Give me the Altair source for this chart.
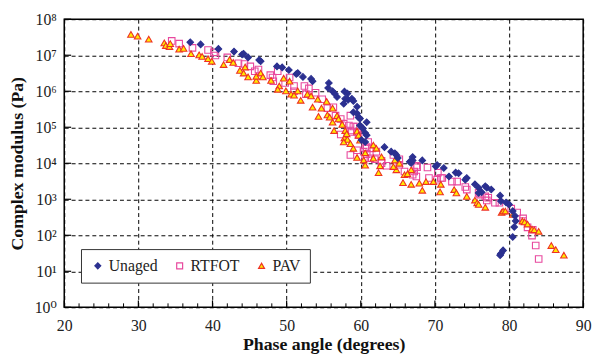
import altair as alt
import pandas as pd

# ---- data ----
unaged_phase = [37.0, 38.4, 40.8, 42.9, 44.0, 44.2, 44.8, 46.3, 46.5, 48.7, 49.4, 50.3, 51.3, 51.5,
                52.2, 53.3, 53.5, 55.7, 55.6, 56.2, 56.5, 56.8, 57.8, 58.2, 57.9, 58.3, 58.8, 59.0,
                57.7, 59.5, 59.0, 59.5, 59.7, 59.9, 60.8, 59.9, 60.3, 60.6, 60.8, 60.1, 60.6, 63.2,
                64.1, 64.6, 64.8, 65.0, 67.0, 66.6, 66.8, 67.0, 68.3, 70.3, 70.1, 71.2, 71.9, 72.8,
                73.2, 74.1, 74.3, 75.4, 75.9, 75.9, 76.8, 77.0, 77.6, 76.3, 78.8, 78.9, 79.6, 80.0,
                80.5, 80.8, 80.9, 80.7, 80.5, 79.2, 78.9, 78.8]
unaged_modulus = [2.3e7, 2.0e7, 1.5e7, 1.26e7, 1.05e7, 1.1e7, 8.7e6, 7.4e6, 6.8e6, 4.9e6, 4.6e6, 3.9e6,
                  3.0e6, 3.2e6, 2.5e6, 2.2e6, 1.9e6, 1.7e6, 1.23e6, 1.0e6, 8.5e5, 6.9e5, 9.8e5, 8.6e5,
                  6.2e5, 5.8e5, 6.2e5, 5.4e5, 4.5e5, 3.7e5, 2.6e5, 2.4e5, 1.87e5, 1.74e5, 1.38e5, 1.12e5,
                  9.3e4, 6.9e4, 6.0e4, 4.4e4, 3.9e4, 2.8e4, 2.1e4, 1.9e4, 1.7e4, 1.4e4, 1.5e4, 1.1e4,
                  1.02e4, 1.2e4, 1.2e4, 8.9e3, 8.2e3, 7.4e3, 4.3e3, 5.5e3, 5.3e3, 3.5e3, 3.9e3, 2.6e3,
                  2.1e3, 1.5e3, 2.3e3, 2.1e3, 1.86e3, 1.56e3, 1.26e3, 890, 815, 720, 470, 345, 250,
                  170, 90, 38, 31, 28]

rtfot_phase = [34.5, 35.5, 37.3, 39.4, 40.2, 40.4, 42.0, 43.5, 44.3, 45.1, 45.7, 46.2, 47.8, 48.1,
               48.2, 48.8, 50.4, 49.8, 51.0, 51.0, 52.4, 53.0, 53.9, 52.6, 54.8, 55.5, 56.3, 56.6,
               58.6, 57.3, 57.7, 58.4, 59.0, 59.5, 58.6, 58.8, 59.5, 59.7, 61.0, 60.8, 60.6, 59.5,
               58.6, 61.5, 62.1, 60.8, 61.3, 61.9, 64.4, 65.2, 67.5, 69.0, 70.4, 70.8, 69.2, 67.0,
               62.8, 63.5, 65.9, 67.2, 67.5, 70.3, 71.0, 72.3, 73.0, 74.1, 74.3, 75.9, 76.1, 76.8,
               77.2, 77.0, 78.1, 78.7, 80.3, 81.1, 81.9, 81.9, 82.5, 83.2, 83.1, 83.6, 84.0,
               57.3, 60.4, 60.6, 62.8, 65.2, 67.6]
rtfot_modulus = [2.5e7, 2.1e7, 1.6e7, 1.4e7, 1.2e7, 9.8e6, 8.7e6, 6.0e6, 5.7e6, 4.9e6, 3.6e6, 4.0e6,
                 2.8e6, 2.4e6, 1.9e6, 3.6e6, 2.4e6, 1.7e6, 1.4e6, 1.0e6, 1.4e6, 1.2e6, 9.1e5, 8.3e5,
                 6.0e5, 3.4e5, 3.6e5, 2.1e5, 2.1e5, 1.7e5, 1.26e5, 1.12e5, 1.05e5, 1.05e5, 8.1e4,
                 7.4e4, 7.4e4, 6.0e4, 3.9e4, 2.8e4, 2.6e4, 2.3e4, 1.7e4, 2.6e4, 2.1e4, 1.8e4, 1.38e4,
                 1.29e4, 1.7e4, 1.29e4, 8.5e3, 7.6e3, 5.5e3, 3.9e3, 3.9e3, 4.8e3, 1.0e4, 8.5e3, 5.9e3,
                 5.9e3, 4.3e3, 3.5e3, 3.9e3, 3.1e3, 3.1e3, 2.2e3, 1.86e3, 1.5e3, 1.35e3, 1.2e3, 1.1e3,
                 930, 800, 800, 550, 430, 295, 250, 166, 142, 98, 52, 22,
                 6.3e4, 2.1e4, 1.38e4, 1.17e4, 9.1e3, 7.8e3]

pav_phase = [29.0, 29.9, 31.4, 33.5, 33.7, 34.2, 34.3, 35.5, 36.1, 37.1, 38.2, 38.6, 39.4, 39.9,
             41.5, 42.3, 42.8, 43.7, 44.2, 44.4, 44.8, 45.9, 45.9, 46.5, 46.8, 47.9, 49.0, 48.8,
             49.6, 50.4, 49.9, 50.6, 51.0, 51.5, 51.9, 52.8, 53.3, 54.2, 53.5, 54.7, 55.4, 54.3,
             55.5, 55.8, 56.2, 56.8, 57.0, 56.2, 57.5, 56.4, 57.9, 59.5, 57.8, 58.2, 57.7, 58.6,
             59.9, 59.0, 59.5, 60.4, 60.6, 61.7, 62.1, 61.7, 62.4, 62.6, 62.8, 64.6, 64.8, 65.2,
             65.9, 66.8, 65.7, 66.3, 66.8, 67.9, 68.3, 68.8, 69.8, 70.7, 70.8, 72.6, 72.9, 74.3,
             75.4, 75.7, 75.9, 76.8, 79.0, 79.2, 79.5, 80.5, 81.8, 82.1, 82.5, 83.1, 83.4, 84.0,
             85.7, 86.3, 87.4, 58.1, 59.7, 60.6, 64.4]
pav_modulus = [3.8e7, 3.4e7, 2.8e7, 2.2e7, 1.86e7, 1.74e7, 2.1e7, 1.48e7, 1.55e7, 1.1e7, 1.02e7, 9.3e6,
               8.0e6, 6.8e6, 5.5e6, 7.6e6, 6.3e6, 3.8e6, 3.2e6, 4.7e6, 2.5e6, 2.0e6, 2.6e6, 3.2e6,
               2.5e6, 2.0e6, 1.4e6, 1.13e6, 2.3e6, 1.9e6, 1.02e6, 8.3e5, 7.8e5, 1.02e6, 5.6e5, 8.3e5,
               7.4e5, 6.0e5, 3.6e5, 3.4e5, 5.2e5, 2.0e5, 2.2e5, 1.9e5, 3.4e5, 2.1e5, 1.7e5, 1.38e5,
               1.2e5, 8.1e4, 8.1e4, 7.8e4, 5.1e4, 4.6e4, 3.9e4, 3.5e4, 4.4e4, 2.6e4, 1.45e4, 1.23e4,
               1.95e4, 3.2e4, 2.6e4, 1.38e4, 5.5e3, 8.5e3, 1.5e4, 1.23e4, 6.6e3, 1.0e4, 4.8e3, 6.6e3,
               2.9e3, 5.1e3, 2.6e3, 2.8e3, 1.78e3, 3.1e3, 3.1e3, 1.6e3, 2.6e3, 1.86e3, 1.5e3, 1.2e3,
               950, 800, 720, 600, 430, 470, 470, 380, 250, 235, 205, 148, 142, 129, 52, 40, 28,
               6.6e4, 6.0e4, 8.9e3, 8.1e3]

series_names = ["Unaged", "RTFOT", "PAV"]
x_tick_values = [20, 30, 40, 50, 60, 70, 80, 90]
x_minor_values = [22, 24, 26, 28, 32, 34, 36, 38, 42, 44, 46, 48, 52, 54, 56, 58,
                  62, 64, 66, 68, 72, 74, 76, 78, 82, 84, 86, 88]
y_tick_values = [1, 10, 100, 1e3, 1e4, 1e5, 1e6, 1e7, 1e8]
y_tick_labels = ["10⁰", "10¹", "10²", "10³", "10⁴", "10⁵", "10⁶", "10⁷", "10⁸"]

rows = []
for name, xs, ys in [("RTFOT", rtfot_phase, rtfot_modulus),
                     ("PAV", pav_phase, pav_modulus),
                     ("Unaged", unaged_phase, unaged_modulus)]:
    for xv, yv in zip(xs, ys):
        rows.append({"phase": xv, "modulus": yv, "binder": name})
df = pd.DataFrame(rows)

W, H = 526, 292
SERIF = "'Liberation Serif', 'Times New Roman', 'DejaVu Serif', serif"
navy = "#2B3090"
pink = "#E8489E"
red = "#EE3124"
yellow = "#FFEA00"

label_expr = "[" + ",".join("'" + s + "'" for s in y_tick_labels) + "][round(log(datum.value)/LN10)]"

xscale = alt.Scale(domain=[20, 90], nice=False, zero=False)
yscale = alt.Scale(type="log", domain=[1, 1e8], nice=False)

points = alt.Chart(df).mark_point(opacity=1, strokeWidth=1.1, size=44).encode(
    x=alt.X("phase:Q", scale=xscale,
            axis=alt.Axis(values=x_tick_values, title="Phase angle (degrees)", grid=True,
                          gridDash=[4, 3], gridColor="black", gridOpacity=1, gridWidth=1,
                          ticks=False, domain=False, labelPadding=11, titlePadding=2,
                          labelFlush=False)),
    y=alt.Y("modulus:Q", scale=yscale,
            axis=alt.Axis(values=y_tick_values, labelExpr=label_expr, title="Complex modulus (Pa)",
                          grid=True, gridDash=[4, 3], gridColor="black", gridOpacity=1, gridWidth=1,
                          ticks=False, domain=False, labelPadding=8, titlePadding=8,
                          labelFlush=False)),
    shape=alt.Shape("binder:N", scale=alt.Scale(domain=series_names,
                                                 range=["diamond", "square", "triangle-up"]),
                    legend=alt.Legend(title=None)),
    fill=alt.Fill("binder:N", scale=alt.Scale(domain=series_names,
                                               range=[navy, "transparent", yellow]),
                  legend=alt.Legend(title=None)),
    stroke=alt.Stroke("binder:N", scale=alt.Scale(domain=series_names,
                                                   range=[navy, pink, red]),
                      legend=alt.Legend(title=None)),
)

minor_ticks = alt.Chart(pd.DataFrame({"phase": x_minor_values})).mark_rule(
    color="black", strokeWidth=1).encode(
    x=alt.X("phase:Q", scale=xscale), y=alt.value(H), y2=alt.value(H - 4))
major_ticks = alt.Chart(pd.DataFrame({"phase": x_tick_values})).mark_rule(
    color="black", strokeWidth=1.2).encode(
    x=alt.X("phase:Q", scale=xscale), y=alt.value(H), y2=alt.value(H - 7))
y_ticks = alt.Chart(pd.DataFrame({"modulus": y_tick_values})).mark_rule(
    color="black", strokeWidth=1.2).encode(
    y=alt.Y("modulus:Q", scale=yscale), x=alt.value(0), x2=alt.value(7))

chart = alt.layer(points, minor_ticks, major_ticks, y_ticks).properties(
    width=W, height=H,
    autosize=alt.AutoSizeParams(type="none"),
    padding={"left": 57, "top": 9, "right": 12, "bottom": 48},
).configure_view(
    stroke="black", strokeWidth=1.5
).configure_axis(
    labelFont=SERIF, labelFontSize=16, labelColor="#222",
    titleFont=SERIF, titleFontSize=18, titleFontWeight="bold", titleColor="#111",
).configure_legend(
    orient="none", legendX=17, legendY=233, direction="horizontal",
    strokeColor="#333", fillColor="white", padding=9,
    labelFont=SERIF, labelFontSize=16, labelColor="#222",
    symbolSize=36, symbolStrokeWidth=1.2, columnPadding=14, labelOffset=3,
)

chart.save("out.html", embed_options={"renderer": "svg", "actions": False})
